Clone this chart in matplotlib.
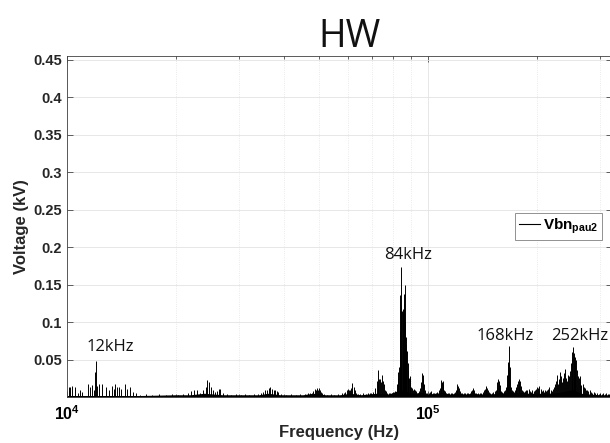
import numpy as np
import matplotlib
matplotlib.use("Agg")
import matplotlib.pyplot as plt
from matplotlib.lines import Line2D
from matplotlib.ticker import FixedLocator, FixedFormatter, NullFormatter

# ---------------------------------------------------------------------------
# Spectrum of Vbn (pau2): spectral lines (kHz, kV) and the noise floor
# ---------------------------------------------------------------------------
spike_khz = [
    # 10-16 kHz
    10.1, 10.2, 10.35, 10.5, 10.7, 10.85, 11.0, 11.4, 11.55, 11.7, 11.85,
    11.92, 12.0, 12.1, 12.3, 12.5, 12.85, 13.05, 13.3, 13.5, 13.6, 13.76,
    13.95, 14.1, 14.45, 14.67, 14.97, 15.2, 15.5, 15.96,
    16.5, 17.2, 18.0, 18.8, 19.5, 20.3, 21.0, 21.6,
    # around 24 kHz
    22.1, 22.5, 22.9, 23.4, 23.8, 24.2, 24.4, 24.8, 25.1, 25.4, 25.7, 26.1,
    26.4, 26.6, 27.1, 27.7,
    28.5, 29.4, 30.3, 31.2, 32.0, 33.0, 33.8,
    # around 36 kHz
    34.5, 35.0, 35.4, 35.8, 36.2, 36.5, 37.0, 37.4, 37.7, 38.1, 38.5, 39.2,
    40.5, 41.8, 43.0, 44.2, 45.5, 46.4,
    # around 49 kHz
    47.1, 47.6, 48.1, 48.6, 48.9, 49.2, 49.5, 49.8, 50.2, 50.5, 51.0, 51.4,
    52.5, 53.8, 55.0, 56.3,
    # around 61 kHz
    57.8, 58.4, 58.9, 59.5, 60.1, 60.5, 60.9, 61.3, 61.7, 62.2, 62.7, 63.2,
    64.0, 65.0, 66.2, 67.3, 68.4, 68.9, 69.7, 70.5,
    # around 73 kHz
    71.3, 72.1, 72.5, 72.9, 73.3, 73.7, 74.1, 74.5, 74.9, 75.3, 75.8, 76.4,
    77.0, 77.8, 78.6, 79.4, 80.2,
    # switching frequency 84 kHz
    80.8, 81.2, 81.8, 82.1, 82.4, 82.8, 83.1, 83.4, 83.6, 83.8, 84.0, 84.2,
    84.4, 84.7, 85.0, 85.3, 85.6, 85.9, 86.2, 86.5, 86.8, 87.1, 87.4, 87.8,
    88.1, 88.5, 88.9, 89.3, 89.7, 90.2, 90.8, 91.5, 92.2, 92.9,
    # 93-135 kHz
    93.8, 94.6, 95.3, 95.8, 96.2, 96.6, 97.0, 97.5, 98.0, 98.8, 99.6,
    100.5, 101.3, 102.2, 103.0, 104.0, 105.0, 106.0, 107.0,
    107.8, 108.4, 108.9, 109.3, 109.8, 110.3, 110.9, 111.6, 112.5, 113.5,
    114.5, 115.6, 116.7, 117.8, 118.8,
    119.6, 120.2, 120.7, 121.2, 121.8, 122.5, 123.3,
    124.3, 125.5, 126.8, 128.0, 129.3, 130.5, 131.5,
    132.3, 132.9, 133.5, 134.1, 135.0,
    # 136-165 kHz
    136.2, 137.5, 139.0, 140.4, 141.8, 143.0,
    143.8, 144.5, 145.1, 145.8, 146.5, 147.3,
    148.5, 150.0, 151.5, 153.0, 154.2,
    155.0, 155.6, 156.2, 156.8, 157.4, 158.0, 158.7, 159.5,
    160.5, 161.6, 162.7, 163.7, 164.6,
    # second harmonic 168 kHz
    165.3, 165.9, 166.4, 166.9, 167.4, 168.0, 168.5, 169.1, 169.8, 170.6,
    171.5, 172.6, 173.7, 174.8, 175.8,
    176.8, 177.6, 178.4, 179.2, 180.0, 180.9, 181.8, 182.8,
    184.0, 185.5, 187.0, 188.5, 190.0, 191.5, 193.0, 194.5, 196.0, 197.5,
    199.0, 200.5, 202.0, 203.5, 205.0, 206.5, 208.0,
    209.5, 211.0, 212.5, 214.0, 215.5, 217.0, 218.5, 220.0, 221.5, 223.0,
    224.5,
    # third harmonic 252 kHz
    226.0, 227.5, 229.0, 230.5, 232.0, 233.5, 235.0, 236.5, 238.0, 239.5,
    241.0, 242.5, 244.0, 245.5, 247.0, 248.5, 250.0, 251.0, 252.0, 253.0,
    254.0, 255.0, 256.0, 257.0, 258.5, 260.0, 261.5, 263.0, 264.5, 266.0,
    268.0, 270.0, 272.0, 274.0, 276.0, 278.0, 280.5, 283.0, 285.5, 288.0,
    291.0, 294.0, 297.0, 300.0, 303.0, 306.0, 309.0, 312.0, 315.0, 318.0,
    321.0,
]

spike_kv = [
    # 10-16 kHz
    0.013, 0.014, 0.015, 0.014, 0.005, 0.010, 0.007, 0.018, 0.014, 0.016, 0.009,
    0.033, 0.048, 0.015, 0.018, 0.018, 0.013, 0.010, 0.015, 0.011, 0.018, 0.014,
    0.013, 0.011, 0.017, 0.011, 0.014, 0.007, 0.005, 0.003,
    0.004, 0.003, 0.004, 0.003, 0.004, 0.003, 0.004, 0.005,
    # around 24 kHz
    0.008, 0.009, 0.010, 0.006, 0.010, 0.014, 0.023, 0.020, 0.014, 0.010, 0.007, 0.008,
    0.011, 0.011, 0.005, 0.004,
    0.003, 0.004, 0.003, 0.004, 0.003, 0.004, 0.004,
    # around 36 kHz
    0.005, 0.007, 0.009, 0.010, 0.012, 0.014, 0.011, 0.009, 0.010, 0.008, 0.007, 0.004,
    0.003, 0.004, 0.003, 0.004, 0.004, 0.005,
    # around 49 kHz
    0.005, 0.006, 0.008, 0.011, 0.010, 0.012, 0.010, 0.012, 0.009, 0.007, 0.005, 0.004,
    0.003, 0.004, 0.003, 0.004,
    # around 61 kHz
    0.005, 0.006, 0.007, 0.009, 0.011, 0.010, 0.010, 0.012, 0.019, 0.013, 0.009, 0.006,
    0.004, 0.004, 0.005, 0.004, 0.005, 0.005, 0.006, 0.007,
    # around 73 kHz
    0.012, 0.021, 0.018, 0.036, 0.024, 0.024, 0.020, 0.030, 0.022, 0.017, 0.010, 0.008,
    0.006, 0.005, 0.005, 0.006, 0.007,
    # switching frequency 84 kHz
    0.008, 0.007, 0.018, 0.012, 0.033, 0.026, 0.040, 0.060, 0.088, 0.136, 0.173, 0.118,
    0.122, 0.115, 0.112, 0.118, 0.125, 0.138, 0.149, 0.100, 0.080, 0.070, 0.062, 0.045,
    0.035, 0.026, 0.028, 0.025, 0.014, 0.012, 0.010, 0.011, 0.010, 0.008,
    # 93-135 kHz
    0.006, 0.008, 0.012, 0.020, 0.032, 0.026, 0.030, 0.018, 0.010, 0.006, 0.005,
    0.006, 0.007, 0.008, 0.006, 0.005, 0.006, 0.007, 0.009,
    0.012, 0.016, 0.023, 0.020, 0.022, 0.016, 0.010, 0.008, 0.006, 0.005,
    0.005, 0.006, 0.005, 0.006, 0.007,
    0.010, 0.014, 0.017, 0.015, 0.012, 0.008, 0.006,
    0.005, 0.006, 0.005, 0.006, 0.005, 0.006, 0.008,
    0.010, 0.012, 0.011, 0.009, 0.006,
    # 136-165 kHz
    0.005, 0.006, 0.005, 0.006, 0.007, 0.009,
    0.011, 0.015, 0.014, 0.012, 0.009, 0.007,
    0.005, 0.006, 0.007, 0.008, 0.010,
    0.014, 0.020, 0.024, 0.019, 0.022, 0.016, 0.010, 0.008,
    0.007, 0.006, 0.008, 0.010, 0.014,
    # second harmonic 168 kHz
    0.018, 0.030, 0.045, 0.047, 0.044, 0.068, 0.040, 0.022, 0.014, 0.010,
    0.008, 0.007, 0.009, 0.011, 0.014,
    0.018, 0.022, 0.024, 0.020, 0.022, 0.015, 0.010, 0.008,
    0.007, 0.008, 0.010, 0.009, 0.011, 0.008, 0.007, 0.009, 0.008, 0.010,
    0.011, 0.014, 0.012, 0.015, 0.011, 0.008, 0.009,
    0.007, 0.009, 0.008, 0.010, 0.011, 0.013, 0.009, 0.008, 0.011, 0.014,
    0.018,
    # third harmonic 252 kHz
    0.022, 0.030, 0.018, 0.024, 0.034, 0.028, 0.020, 0.025, 0.032, 0.038,
    0.026, 0.022, 0.030, 0.028, 0.035, 0.045, 0.052, 0.060, 0.067, 0.055,
    0.059, 0.048, 0.054, 0.050, 0.036, 0.028, 0.025, 0.028, 0.020, 0.016,
    0.018, 0.014, 0.012, 0.010, 0.009, 0.008, 0.009, 0.007, 0.006, 0.007,
    0.005, 0.005, 0.004, 0.005, 0.004, 0.005, 0.004, 0.005, 0.004, 0.004,
    0.004,
]

floor_khz = [10, 16, 20, 22, 24, 27, 30, 34, 36, 39, 45, 48, 52, 57, 61, 65,
             72, 78, 84, 90, 96, 100, 110, 115, 121, 127, 133, 140, 146, 151,
             157, 162, 168, 173, 180, 190, 200, 215, 230, 252, 265, 280, 300, 322]
floor_kv = [0.002, 0.002, 0.003, 0.003, 0.005, 0.003, 0.003, 0.003, 0.005,
            0.003, 0.003, 0.005, 0.003, 0.003, 0.005, 0.003, 0.005, 0.004,
            0.010, 0.005, 0.006, 0.004, 0.006, 0.004, 0.005, 0.004, 0.005,
            0.004, 0.005, 0.004, 0.006, 0.005, 0.008, 0.005, 0.006, 0.005,
            0.005, 0.005, 0.006, 0.010, 0.005, 0.004, 0.003, 0.003]

# Harmonic annotations and their label text
peak_labels = ["12kHz", "84kHz", "168kHz", "252kHz"]
# label anchor positions (frequency in kHz, voltage in kV)
label_pos = [(13.15, 0.067), (88.1, 0.189), (163.3, 0.081), (262.4, 0.081)]

ytick_vals = [0.05, 0.1, 0.15, 0.2, 0.25, 0.3, 0.35, 0.4, 0.45]
ytick_labels = ["0.05", "0.1", "0.15", "0.2", "0.25", "0.3", "0.35", "0.4", "0.45"]
xtick_vals = [1e4, 1e5]
xtick_labels = [r"$\mathbf{10^{4}}$", r"$\mathbf{10^{5}}$"]

# ---------------------------------------------------------------------------
plt.rcParams["mathtext.fontset"] = "custom"
plt.rcParams["mathtext.rm"] = "Liberation Sans:bold"
plt.rcParams["mathtext.bf"] = "Liberation Sans:bold"
plt.rcParams["mathtext.it"] = "Liberation Sans:bold"

W, H = 610, 443
fig = plt.figure(figsize=(W / 100, H / 100), dpi=100)
ax = fig.add_axes([67 / W, 46 / H, 545 / W, 341 / H])

ax.set_xscale("log")
ax.set_xlim(1e4, 1e4 * 10 ** (545 / 361))
ax.set_ylim(0, 0.4547)

f_floor = np.array(floor_khz) * 1e3
ax.fill_between(f_floor, 0, floor_kv, color="k", lw=0, zorder=2)
ax.vlines(np.array(spike_khz) * 1e3, 0, spike_kv, color="k", lw=0.7, zorder=3)

# grid
ax.set_axisbelow(True)
ax.grid(which="major", color="#e3e3e3", lw=0.6, ls="-")
ax.grid(which="minor", axis="x", color="#e3e3e3", lw=0.6, ls=":")

# ticks
ax.xaxis.set_major_locator(FixedLocator(xtick_vals))
ax.xaxis.set_major_formatter(FixedFormatter(xtick_labels))
ax.xaxis.set_minor_locator(FixedLocator(
    [k * 1e4 for k in range(2, 10)] + [k * 1e5 for k in range(2, 4)]))
ax.xaxis.set_minor_formatter(NullFormatter())
ax.yaxis.set_major_locator(FixedLocator(ytick_vals))
ax.yaxis.set_major_formatter(FixedFormatter(ytick_labels))

ax.tick_params(which="both", direction="in", top=True, right=True,
               color="#262626", width=0.5)
ax.tick_params(which="major", length=4)
ax.tick_params(which="minor", length=2)
ax.tick_params(axis="y", pad=3.5, labelsize=10.5)
ax.tick_params(axis="x", pad=5, labelsize=11.5)
for lab in ax.get_yticklabels():
    lab.set_fontweight("bold")
    lab.set_family("Liberation Sans")
    lab.set_color("#262626")

for sp in ax.spines.values():
    sp.set_color("#404040")
    sp.set_linewidth(0.6)

# labels
ax.set_xlabel("Frequency (Hz)", fontsize=12, fontweight="bold",
              family="Liberation Sans", color="#262626", va="center")
ax.xaxis.set_label_coords(0.5, -0.103)
ax.set_ylabel("Voltage (kV)", fontsize=12, fontweight="bold",
              family="Liberation Sans", color="#262626", va="center")
ax.yaxis.set_label_coords(-0.084, 0.5)

fig.text(350 / W, 1 - 47 / H, "HW", ha="center", va="baseline",
         fontsize=27, family="Open Sans", color="#111111")

for txt, (fx, fy) in zip(peak_labels, label_pos):
    ax.text(fx * 1e3, fy, txt, ha="center", va="center", fontsize=12,
            family="Open Sans", color="#111111", zorder=5)

handle = Line2D([], [], color="k", lw=0.8)
leg = ax.legend([handle], [r"$\mathbf{Vbn_{pau2}}$"], loc="upper right",
                bbox_to_anchor=((602 - 67) / 545, (397 - 213) / 341),
                borderaxespad=0, fontsize=11, frameon=True, fancybox=False,
                framealpha=1, edgecolor="#808080", handlelength=1.4,
                handletextpad=0.15, borderpad=0.25)
leg.get_frame().set_linewidth(0.6)

fig.savefig("out.png", dpi=100)
